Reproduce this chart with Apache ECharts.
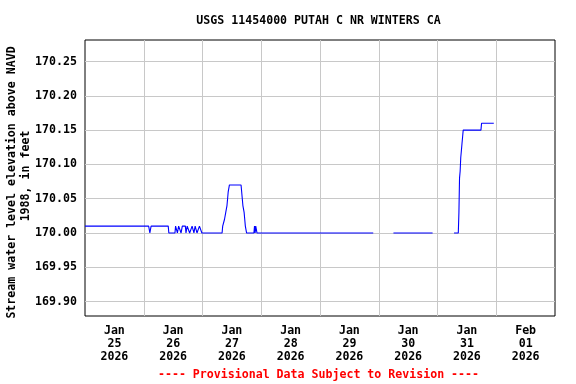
<!DOCTYPE html>
<html>
<head>
<meta charset="utf-8">
<script src="https://cdn.jsdelivr.net/npm/echarts@6/dist/echarts.min.js"></script>
<style>
html,body{margin:0;padding:0;background:#fff;}
#chart{width:576px;height:384px;}
</style>
</head>
<body>
<div id="chart"></div>
<script>
// ---- data ----
const obsTimes = [
  '2026-01-25 00:00','2026-01-26 02:00','2026-01-26 02:30','2026-01-26 03:00',
  '2026-01-26 10:00','2026-01-26 10:15','2026-01-26 12:45','2026-01-26 13:00',
  '2026-01-26 13:30','2026-01-26 13:45','2026-01-26 14:00','2026-01-26 14:15',
  '2026-01-26 15:00','2026-01-26 15:15','2026-01-26 15:30','2026-01-26 15:45',
  '2026-01-26 17:00','2026-01-26 17:15','2026-01-26 17:30','2026-01-26 17:45',
  '2026-01-26 18:30','2026-01-26 18:45','2026-01-26 19:30','2026-01-26 19:45',
  '2026-01-26 20:15','2026-01-26 20:30','2026-01-26 20:45','2026-01-26 21:00',
  '2026-01-26 21:30','2026-01-26 21:45','2026-01-26 22:30','2026-01-26 22:45',
  '2026-01-26 23:30','2026-01-26 23:45','2026-01-27 08:00','2026-01-27 08:15',
  '2026-01-27 08:45','2026-01-27 09:00','2026-01-27 09:30','2026-01-27 10:00',
  '2026-01-27 10:15','2026-01-27 10:30','2026-01-27 11:00','2026-01-27 15:45',
  '2026-01-27 16:00','2026-01-27 16:15','2026-01-27 16:30','2026-01-27 17:00',
  '2026-01-27 17:15','2026-01-27 17:30','2026-01-27 18:00','2026-01-27 21:00',
  '2026-01-27 21:15','2026-01-27 21:30','2026-01-27 21:45','2026-01-27 22:15',
  '2026-01-29 21:45','2026-01-30 02:00','2026-01-30 06:00','2026-01-30 22:00',
  '2026-01-31 02:00','2026-01-31 06:45','2026-01-31 08:30','2026-01-31 08:45',
  '2026-01-31 09:00','2026-01-31 09:15','2026-01-31 09:30','2026-01-31 09:45',
  '2026-01-31 10:00','2026-01-31 10:15','2026-01-31 10:30','2026-01-31 17:45',
  '2026-01-31 18:00','2026-01-31 23:00'
];
const obsValues = [
  170.01,170.01,170.00,170.01,
  170.01,170.00,170.00,170.01,
  170.01,170.00,170.00,170.01,
  170.01,170.00,170.00,170.01,
  170.01,170.00,170.00,170.01,
  170.01,170.00,170.00,170.01,
  170.01,170.00,170.00,170.01,
  170.01,170.00,170.00,170.01,
  170.01,170.00,170.00,170.01,
  170.01,170.02,170.03,170.04,
  170.05,170.06,170.07,170.07,
  170.06,170.05,170.04,170.03,
  170.02,170.01,170.00,170.00,
  170.01,170.00,170.01,170.00,
  170.00,null,170.00,170.00,
  null,170.00,170.00,170.03,
  170.08,170.09,170.11,170.12,
  170.13,170.14,170.15,170.15,
  170.16,170.16
];
const yTickValues = [169.90,169.95,170.00,170.05,170.10,170.15,170.20,170.25];
const xGridDays = ['2026-01-26','2026-01-27','2026-01-28','2026-01-29','2026-01-30','2026-01-31','2026-02-01'];
const xLabelDays = ['2026-01-25','2026-01-26','2026-01-27','2026-01-28','2026-01-29','2026-01-30','2026-01-31','2026-02-01'];
const xRange = ['2026-01-25','2026-02-02'];
const monthNames = ['Jan','Feb','Mar','Apr','May','Jun','Jul','Aug','Sep','Oct','Nov','Dec'];
const titleText = 'USGS 11454000 PUTAH C NR WINTERS CA';
const yNameLines = ['Stream water level elevation above NAVD','1988, in feet'];
const footerText = '---- Provisional Data Subject to Revision ----';

function toUTC(s, hourOffset) {
  const [d, t] = s.split(' ');
  const [Y, M, D] = d.split('-').map(Number);
  let h = 0, m = 0;
  if (t) { [h, m] = t.split(':').map(Number); }
  return Date.UTC(Y, M - 1, D, h, m) + (hourOffset || 0) * 3600000;
}

const seriesData = obsTimes.map((t, i) => [toUTC(t), obsValues[i]]);
const FONT = 'DejaVu Sans Mono';
const FS = 11.6;

const chart = echarts.init(document.getElementById('chart'), null, {renderer: 'canvas'});
chart.setOption({
  animation: false,
  backgroundColor: '#fff',
  grid: {
    left: 85, top: 40, width: 470, height: 276,
    show: true, borderColor: '#000', borderWidth: 1,
    containLabel: false, outerBoundsMode: 'none'
  },
  xAxis: {
    type: 'value',
    scale: true,
    min: toUTC(xRange[0]),
    max: toUTC(xRange[1]),
    axisLine: {show: false},
    axisTick: {show: false, customValues: xGridDays.map(d => toUTC(d))},
    splitLine: {show: true, lineStyle: {color: '#c8c8c8', width: 1}},
    axisLabel: {
      customValues: xLabelDays.map(d => toUTC(d, 12)),
      formatter: function (v) {
        const dt = new Date(v);
        const dd = String(dt.getUTCDate()).padStart(2, '0');
        return monthNames[dt.getUTCMonth()] + '\n' + dd + '\n' + dt.getUTCFullYear();
      },
      fontFamily: FONT, fontWeight: 'bold', fontSize: FS, color: '#000',
      lineHeight: 13.3, margin: 8, align: 'center'
    }
  },
  yAxis: {
    type: 'value',
    scale: true,
    min: 169.8789,
    max: 170.2814,
    axisLine: {show: false},
    axisTick: {show: false, customValues: yTickValues},
    splitLine: {show: true, lineStyle: {color: '#c8c8c8', width: 1}},
    axisLabel: {
      customValues: yTickValues,
      formatter: v => v.toFixed(2),
      fontFamily: FONT, fontWeight: 'bold', fontSize: FS, color: '#000', margin: 8
    }
  },
  series: [{
    type: 'line',
    data: seriesData,
    showSymbol: false,
    connectNulls: false,
    lineStyle: {color: '#0000ff', width: 1.1},
    itemStyle: {color: '#0000ff'},
    z: 5
  }],
  graphic: [
    {type: 'text', x: 318.5, y: 20.8, style: {text: titleText, font: 'bold ' + FS + 'px ' + FONT, fill: '#000', align: 'center', verticalAlign: 'middle'}},
    {type: 'text', x: 12, y: 182.5, rotation: Math.PI / 2, style: {text: yNameLines[0], font: 'bold ' + FS + 'px ' + FONT, fill: '#000', align: 'center', verticalAlign: 'middle'}},
    {type: 'text', x: 26, y: 176, rotation: Math.PI / 2, style: {text: yNameLines[1], font: 'bold ' + FS + 'px ' + FONT, fill: '#000', align: 'center', verticalAlign: 'middle'}},
    {type: 'text', x: 318.5, y: 375, style: {text: footerText, font: 'bold ' + FS + 'px ' + FONT, fill: '#ff0000', align: 'center', verticalAlign: 'middle'}}
  ]
});
</script>
</body>
</html>
